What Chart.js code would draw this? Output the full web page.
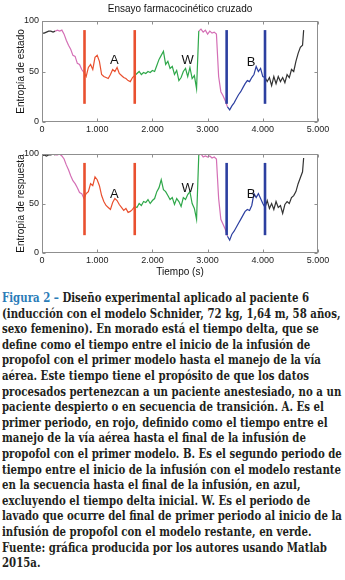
<!DOCTYPE html>
<html>
<head>
<meta charset="utf-8">
<script src="https://cdn.jsdelivr.net/npm/chart.js@4.4.1/dist/chart.umd.min.js"></script>
<style>
body { margin: 0; background: #fff; width: 345px; height: 580px; overflow: hidden; position: relative; }
#Grafica1 { position: absolute; left: 0; top: 0; }
#Grafica2 { position: absolute; left: 0; top: 135px; }
#Leyenda { position: absolute; left: 2px; top: 291px; font-family: "DejaVu Serif", serif; font-weight: bold; font-size: 12px; line-height: 15.6px; color: #231f20; transform-origin: 0 0; }
#Leyenda div { width: max-content; white-space: nowrap; }
#Leyenda .fig { color: #2a7cb8; }
</style>
</head>
<body>
<canvas id="Grafica1" width="345" height="135"></canvas>
<canvas id="Grafica2" width="345" height="145"></canvas>
<div id="Leyenda">
<div><span class="fig">Figura 2 –</span> Diseño experimental aplicado al paciente 6</div>
<div>(inducción con el modelo Schnider, 72 kg, 1,64 m, 58 años,</div>
<div>sexo femenino). En morado está el tiempo delta, que se</div>
<div>define como el tiempo entre el inicio de la infusión de</div>
<div>propofol con el primer modelo hasta el manejo de la vía</div>
<div>aérea. Este tiempo tiene el propósito de que los datos</div>
<div>procesados pertenezcan a un paciente anestesiado, no a un</div>
<div>paciente despierto o en secuencia de transición. A. Es el</div>
<div>primer periodo, en rojo, definido como el tiempo entre el</div>
<div>manejo de la vía aérea hasta el final de la infusión de</div>
<div>propofol con el primer modelo. B. Es el segundo periodo de</div>
<div id="FilaLarga">tiempo entre el inicio de la infusión con el modelo restante</div>
<div>en la secuencia hasta el final de la infusión, en azul,</div>
<div>excluyendo el tiempo delta inicial. W. Es el periodo de</div>
<div>lavado que ocurre del final de primer periodo al inicio de la</div>
<div>infusión de propofol con el modelo restante, en verde.</div>
<div>Fuente: gráfica producida por los autores usando Matlab</div>
<div>2015a.</div>
</div>
<script>
// tiempo (s) de cada muestra
const tiempo = [
    0, 40, 80, 120, 160, 200, 240, 280, 320, 360,
    400, 440, 480, 520, 560, 600, 640, 680, 720, 760,
    800, 840, 880, 920, 960, 1000, 1040, 1080, 1120, 1160,
    1200, 1240, 1280, 1320, 1360, 1400, 1440, 1480, 1520, 1560,
    1600, 1640, 1680, 1720, 1760, 1800, 1840, 1880, 1920, 1960,
    2000, 2040, 2080, 2120, 2160, 2200, 2240, 2280, 2320, 2360,
    2400, 2440, 2480, 2520, 2560, 2600, 2640, 2680, 2720, 2760,
    2800, 2840, 2880, 2920, 2960, 3000, 3040, 3080, 3120, 3160,
    3200, 3240, 3280, 3320, 3360, 3400, 3440, 3480, 3520, 3560,
    3600, 3640, 3680, 3720, 3760, 3800, 3840, 3880, 3920, 3960,
    4000, 4040, 4080, 4120, 4160, 4200, 4240, 4280, 4320, 4360,
    4400, 4440, 4480, 4520, 4560, 4600, 4640, 4680, 4720, 4740
];

// entropía de estado
const estado = [
    88, 88, 89, 90, 90, 89, 90, 91, 90, 91,
    87, 81, 76, 72, 66, 65, 58, 57, 52, 49,
    45, 54, 57, 52, 64, 66, 60, 47, 45, 44,
    43, 47, 52, 50, 54, 48, 46, 44, 43, 41,
    40, 44, 46, 48, 50, 47, 49, 48, 50, 49,
    51, 50, 56, 62, 66, 70, 57, 60, 53, 55,
    47, 51, 41, 44, 50, 53, 45, 54, 43, 46,
    33, 90, 92, 89, 91, 87, 90, 88, 89, 87,
    45, 30, 26, 21, 15, 12, 16, 19, 23, 27,
    30, 34, 38, 41, 40, 44, 47, 55, 50, 53,
    45, 44, 40, 44, 36, 45, 38, 45, 40, 44,
    39, 47, 44, 52, 50, 60, 68, 74, 76, 91
];

// entropía de respuesta
const respuesta = [
    98, 99, 98, 99, 99, 100, 99, 99, 100, 98,
    95, 89, 84, 78, 73, 70, 66, 61, 60, 55,
    60, 62, 70, 68, 77, 74, 68, 58, 52, 48,
    46, 44, 51, 55, 53, 49, 46, 43, 45, 41,
    42, 44, 47, 46, 50, 48, 52, 51, 54, 50,
    53, 55, 62, 66, 74, 64, 62, 58, 54, 56,
    49, 55, 52, 47, 56, 54, 59, 62, 50, 45,
    34, 99, 100, 97, 98, 97, 98, 96, 97, 95,
    55, 34, 29, 24, 17, 13, 19, 22, 26, 30,
    34, 38, 42, 44, 43, 48, 60, 56, 60, 55,
    50, 46, 53, 45, 50, 44, 52, 46, 48, 40,
    49, 52, 50, 56, 58, 62, 70, 76, 82, 96
];

// inicio de cada fase: delta, A, W, delta, B, final
const fases = [240, 760, 1680, 2840, 3360, 4040];

// barras verticales que marcan los periodos A y B
const marcasA = [770, 1680];
const marcasB = [3345, 4040];
const marcaDesde = 18;
const marcaHasta = 91;

// letras de los periodos
const letras = ['A', 'W', 'B'];
const letrasT = [1312, 2640, 3790];
const letrasEstado = [61, 61, 59];
const letrasRespuesta = [59, 65, 59];

const etiquetasX = ['0', '1.000', '2.000', '3.000', '4.000', '5.000'];

const coloresFase = ['#333333', '#d46fb5', '#e9502f', '#2fa84a', '#d46fb5', '#2c3fa0', '#333333'];
const ROJO = '#e9502f';
const AZUL = '#2c3fa0';
const FUENTE = '"Liberation Sans", Arial, sans-serif';

Chart.defaults.font.family = FUENTE;
Chart.defaults.color = '#222';

function ColorFase(ctx)
{
    const t = ctx.p0.parsed.x;
    let i = 0;
    while (i < fases.length && t >= fases[i]) i++;
    return coloresFase[i];
}

function Barra(t, color)
{
    return {
        data: [{x: t, y: marcaDesde}, {x: t, y: marcaHasta}],
        borderColor: color,
        borderWidth: 2.6,
        borderCapStyle: 'butt',
        pointRadius: 0
    };
}

// caja gris con marcas hacia dentro y las letras A, W, B
const Marco =
{
    id: 'marco',
    afterDatasetsDraw(chart, args, opts)
    {
        const {ctx, chartArea: a, scales: {x, y}} = chart;
        ctx.save();
        ctx.strokeStyle = '#8f8f8f';
        ctx.lineWidth = 1;
        const l = Math.round(a.left) + 0.5, r = Math.round(a.right) - 0.5;
        const t = Math.round(a.top) + 0.5, b = Math.round(a.bottom) - 0.5;
        ctx.strokeRect(l, t, r - l, b - t);
        ctx.beginPath();
        x.ticks.forEach(k =>
        {
            const px = Math.round(x.getPixelForValue(k.value)) + 0.5;
            ctx.moveTo(px, b); ctx.lineTo(px, b - 3);
            ctx.moveTo(px, t); ctx.lineTo(px, t + 3);
        });
        y.ticks.forEach(k =>
        {
            const py = Math.round(y.getPixelForValue(k.value)) + 0.5;
            ctx.moveTo(l, py); ctx.lineTo(l + 3, py);
            ctx.moveTo(r, py); ctx.lineTo(r - 3, py);
        });
        ctx.stroke();

        ctx.fillStyle = '#111';
        ctx.font = '13px ' + FUENTE;
        ctx.textAlign = 'center';
        ctx.textBaseline = 'middle';
        letras.forEach((e, i) =>
        {
            ctx.fillText(e, x.getPixelForValue(letrasT[i]), y.getPixelForValue(opts.alturas[i]));
        });
        ctx.restore();
    }
};

function Opciones(titulo, tituloY, conTituloX)
{
    return {
        responsive: false,
        animation: false,
        layout: { padding: { left: 0, right: 27, top: conTituloX ? 19 : 0, bottom: 0 } },
        plugins: {
            legend: { display: false },
            tooltip: { enabled: false },
            title: {
                display: !!titulo,
                text: titulo,
                fullSize: false,
                color: '#111',
                font: { size: 10, weight: 'normal' },
                padding: { top: 3, bottom: 6 }
            }
        },
        scales: {
            x: {
                type: 'linear',
                min: 0,
                max: 5000,
                grid: { display: false, drawTicks: false },
                border: { display: false },
                ticks: {
                    stepSize: 1000,
                    maxRotation: 0,
                    padding: 2,
                    font: { size: 9 },
                    callback: (v, i) => etiquetasX[i]
                },
                title: {
                    display: conTituloX,
                    text: 'Tiempo (s)',
                    color: '#111',
                    font: { size: 10 },
                    padding: { top: 0, bottom: 2 }
                },
                afterFit: s => { s.height = conTituloX ? 27 : 13; }
            },
            y: {
                min: 0,
                max: 100,
                grid: { display: false, drawTicks: false },
                border: { display: false },
                ticks: { stepSize: 50, padding: 3, font: { size: 9 } },
                title: {
                    display: true,
                    text: tituloY,
                    color: '#111',
                    font: { size: 10 },
                    padding: { top: 15, bottom: 0 }
                },
                afterFit: s => { s.width = 42; }
            }
        }
    };
}

function Grafica(id, serie, alturas, titulo, tituloY, conTituloX)
{
    const ctx = document.getElementById(id).getContext('2d');
    const opciones = Opciones(titulo, tituloY, conTituloX);
    opciones.plugins.marco = { alturas: alturas };

    return new Chart(ctx,
    {
        type: 'line',
        data: {
            datasets: [
                Barra(marcasA[0], ROJO),
                Barra(marcasA[1], ROJO),
                Barra(marcasB[0], AZUL),
                Barra(marcasB[1], AZUL),
                {
                    data: tiempo.map((t, i) => ({x: t, y: serie[i]})),
                    borderWidth: 1.2,
                    pointRadius: 0,
                    tension: 0,
                    segment: { borderColor: ColorFase }
                }
            ]
        },
        options: opciones,
        plugins: [Marco]
    });
}

function AjustarLeyenda()
{
    // el renglón más largo ocupa casi todo el ancho: se estrecha el texto
    const fila = document.getElementById('FilaLarga');
    const ancho = fila.getBoundingClientRect().width;
    document.getElementById('Leyenda').style.transform = 'scaleX(' + (339 / ancho) + ')';
}

function Initialize()
{
    Grafica('Grafica1', estado, letrasEstado, 'Ensayo farmacocinético cruzado', 'Entropía de estado', false);
    Grafica('Grafica2', respuesta, letrasRespuesta, '', 'Entropía de respuesta', true);
    AjustarLeyenda();
}

Initialize();
</script>
</body>
</html>
